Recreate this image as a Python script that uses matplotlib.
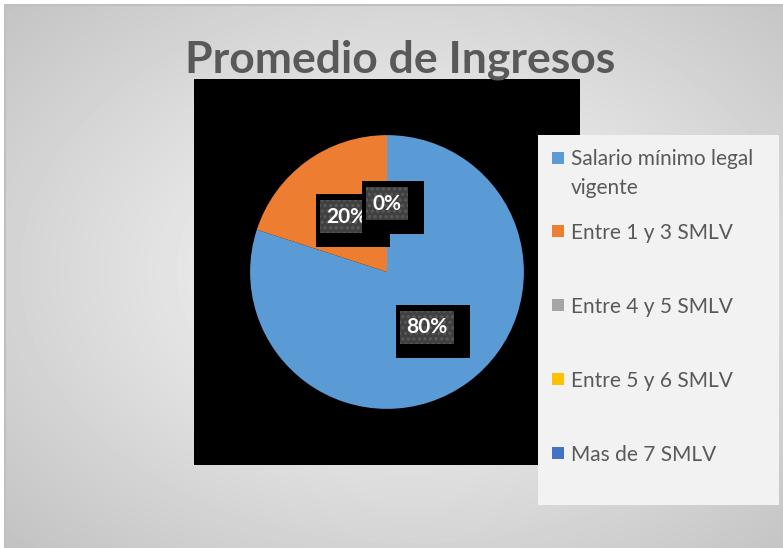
import numpy as np
import matplotlib
matplotlib.use("Agg")
import matplotlib.pyplot as plt
import matplotlib.transforms as mtransforms
from matplotlib.patches import Rectangle
from matplotlib.lines import Line2D

# datos del grafico
categorias = ["Salario mínimo legal\nvigente", "Entre 1 y 3 SMLV", "Entre 4 y 5 SMLV",
              "Entre 5 y 6 SMLV", "Mas de 7 SMLV"]
porcentajes = [80, 20, 0, 0, 0]
colores = ["#5B9BD5", "#ED7D31", "#A5A5A5", "#FFC000", "#4472C4"]
titulo = "Promedio de Ingresos"

W, H = 783, 548
plt.rcParams['font.family'] = ['Lato', 'DejaVu Sans']
plt.rcParams['hatch.linewidth'] = 1.5

fig = plt.figure(figsize=(W / 100, H / 100), dpi=100)
fig.patch.set_facecolor('white')
# coordenadas en pixeles (origen arriba a la izquierda)
pix = mtransforms.Affine2D().scale(1 / W, -1 / H).translate(0, 1) + fig.transFigure

# fondo con degradado radial
bg = fig.add_axes([5 / W, 0, 1 - 5 / W, 1 - 5 / H])
bg.set_axis_off()
yy, xx = np.mgrid[5:H, 5:W]
d = np.sqrt(((xx - 410) / W) ** 2 + ((yy - 270) / H) ** 2)
gris = np.clip(252 - 80 * d, 0, 255) / 255
bg.imshow(gris, cmap='gray', vmin=0, vmax=1, aspect='auto', interpolation='bilinear')
fig.add_artist(Line2D([5, 5, W], [H, 5, 5], transform=pix, color='#c0c0c0', lw=1.5))

# area del grafico (cuadro negro) con la torta
ax = fig.add_axes([194 / W, 1 - 465 / H, 386 / W, 386 / H])
wedges, _, textos = ax.pie(porcentajes, colors=colores, startangle=90, counterclock=False,
                           autopct='%.0f%%', pctdistance=0.5,
                           wedgeprops=dict(linewidth=0))
ax.set_frame_on(True)
ax.set_facecolor('black')
for s in ax.spines.values():
    s.set_visible(False)
ax.set_xlim(-1.41, 1.41)
ax.set_ylim(-1.41, 1.41)
ax.set_aspect('equal')

sombra_tr = mtransforms.offset_copy(ax.transData, fig=fig, x=6, y=-4, units='dots')
for i, t in enumerate(textos):
    x, y = t.get_position()
    ax.text(x, y, t.get_text(), fontsize=15, fontweight='bold', color='black',
            ha='center', va='center', zorder=10 + 2 * i, transform=sombra_tr,
            bbox=dict(boxstyle='square,pad=0.78', facecolor='black', edgecolor='none'))
    t.set_color('white')
    t.set_fontsize(15)
    t.set_fontweight('bold')
    t.set_zorder(11 + 2 * i)
    t.set_bbox(dict(boxstyle='square,pad=0.3', facecolor='#404040', edgecolor='#595959',
                    linewidth=0, hatch='...'))

# titulo
fig.text(400, 72, titulo, transform=pix, ha='center', va='baseline',
         fontsize=32, fontweight='bold', color='#595959')

# leyenda
fig.add_artist(Rectangle((538, 135), 241, 370, transform=pix, facecolor='#f2f2f2',
                         edgecolor='none', zorder=5))
base_leyenda = [166, 239, 313, 387, 461]
for cat, col, b in zip(categorias, colores, base_leyenda):
    fig.add_artist(Rectangle((552, b - 14), 12, 12, transform=pix, facecolor=col,
                             edgecolor='none', zorder=6))
    # va='baseline' alinea la ultima linea: bajar segun el numero de lineas
    fig.text(571, b + 28 * cat.count('\n'), cat, transform=pix, fontsize=15,
             color='#595959', ha='left', va='baseline', linespacing=1.55, zorder=6)

fig.savefig('out.png', dpi=100)
